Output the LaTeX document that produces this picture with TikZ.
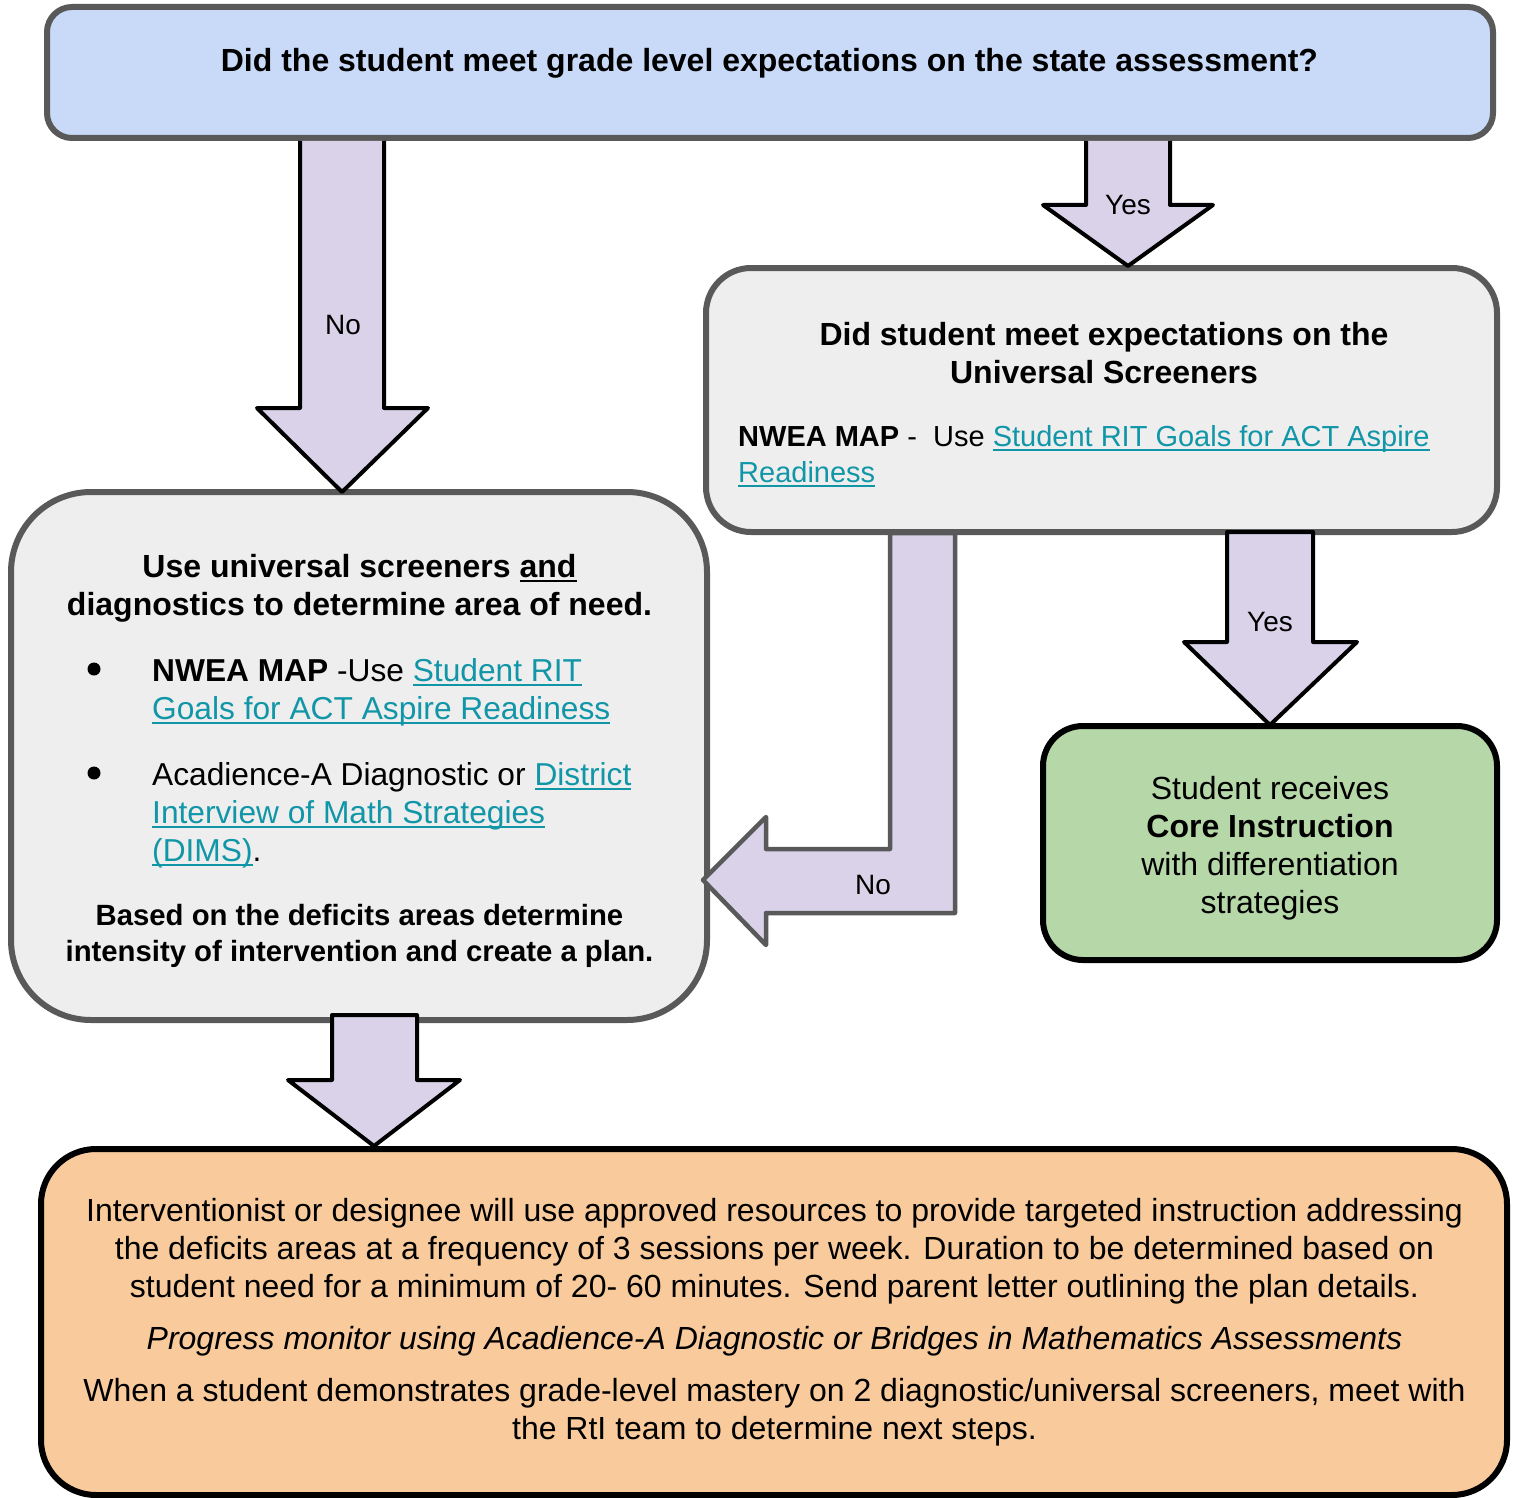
\documentclass[tikz,border=0pt]{standalone}
\usepackage{fontspec}
\setmainfont{Liberation Sans}
\definecolor{qblue}{HTML}{C9DAF8}
\definecolor{apurple}{HTML}{D9D2E9}
\definecolor{bgray}{HTML}{EEEEEE}
\definecolor{bgreen}{HTML}{B6D7A8}
\definecolor{borange}{HTML}{F9CB9C}
\definecolor{edgegray}{HTML}{595959}
\definecolor{link}{RGB}{17,150,168}
\newsavebox{\myulbox}
\newcommand{\myul}[1]{\sbox{\myulbox}{#1}\rlap{\rule[-4.5pt]{\wd\myulbox}{2pt}}\usebox{\myulbox}}
\newcommand{\lk}[1]{{\color{link}\myul{#1}}}
\newcommand{\topst}{\rule{0pt}{30pt}}
\newcommand{\topsm}{\rule{0pt}{28pt}}
\begin{document}
\begin{tikzpicture}[x=1pt,y=-1pt,
  box/.style={draw, rectangle, outer sep=0pt, inner sep=0pt, line width=6pt},
  txt/.style={inner sep=0pt, font=\fontsize{32pt}{38pt}\selectfont},
  smtxt/.style={inner sep=0pt, font=\fontsize{29.3pt}{36pt}\selectfont},
  lbl/.style={inner sep=0pt, font=\fontsize{28pt}{34pt}\selectfont},
  blk/.style={fill=apurple, draw=black, line width=4pt, line join=round},
  blkg/.style={fill=apurple, draw=edgegray, line width=4.5pt, line join=round},
  bul/.style={circle, fill=black, inner sep=0pt, minimum size=13pt}]
\useasboundingbox (0,0) rectangle (1520,1498);

% boxes
\node[box, draw=edgegray, fill=qblue, rounded corners=25pt,
      minimum width=1446pt, minimum height=131pt] (q1) at (770,72.5) {};
\node[box, draw=edgegray, fill=bgray, rounded corners=45pt,
      minimum width=791pt, minimum height=264pt] (q2) at (1101.5,400) {};
\node[box, draw=edgegray, fill=bgray, rounded corners=80pt,
      minimum width=696pt, minimum height=528pt] (plan) at (359,756) {};
\node[box, draw=black, fill=bgreen, rounded corners=40pt,
      minimum width=454pt, minimum height=234pt] (core) at (1270,843) {};
\node[box, draw=black, fill=borange, rounded corners=55pt,
      minimum width=1466pt, minimum height=346pt] (intv) at (774,1322) {};

% block arrows
\fill[apurple] (300,141) -- (300,408) -- (257,408) -- (342,492) -- (428,408) -- (384,408) -- (384,141) -- cycle;
\draw[line width=4pt, line join=round] (300,141) -- (300,408) -- (257,408) -- (342,492) -- (428,408) -- (384,408) -- (384,141);
\fill[apurple] (1086,141) -- (1086,205) -- (1043,205) -- (1128,266) -- (1213,205) -- (1170,205) -- (1170,141) -- cycle;
\draw[line width=4pt, line join=round] (1086,141) -- (1086,205) -- (1043,205) -- (1128,266) -- (1213,205) -- (1170,205) -- (1170,141);
\draw[blk] (1227,532) -- (1313,532) -- (1313,642) -- (1357,642) -- (1270,725) -- (1184,642) -- (1227,642) -- cycle;
\draw[blk] (332,1015) -- (417,1015) -- (417,1080) -- (460,1080) -- (374,1146) -- (288,1080) -- (332,1080) -- cycle;
\draw[blkg] (890,533) -- (955,533) -- (955,913) -- (766,913) -- (766,945) -- (703,880) -- (766,817) -- (766,849) -- (890,849) -- cycle;

% labels
\node[lbl] (lno1) at (343,325) {No};
\node[lbl] (lyes1) at (1128,205) {Yes};
\node[lbl] (lyes2) at (1270,622) {Yes};
\node[lbl] (lno2) at (873,885) {No};

% texts
\node[txt, anchor=base] (t1) at (769.5,72) {\textbf{Did the student meet grade level expectations on the state assessment?}};

\node[txt, anchor=north, align=center] (t2) at (1104,315) {\topst\textbf{Did student meet expectations on the}\\ \textbf{Universal Screeners}};
\node[txt, anchor=north west, align=left, font=\fontsize{29pt}{36pt}\selectfont] (t3) at (738,416) {\topst\textbf{NWEA MAP} -\ \ Use \lk{Student RIT Goals for ACT Aspire}\\ \lk{Readiness}};

\node[txt, anchor=north, align=center] (t4) at (359.5,547) {\topst\textbf{Use universal screeners {\color{black}\myul{and}}}\\ \textbf{diagnostics to determine area of need.}};
\node[bul] (bu1) at (94,669) {};
\node[txt, anchor=north west, align=left, font=\fontsize{31.7pt}{38pt}\selectfont] (t5) at (152,651) {\topst\textbf{NWEA MAP} -Use \lk{Student RIT}\\ \lk{Goals for ACT Aspire Readiness}};
\node[bul] (bu2) at (94,773) {};
\node[txt, anchor=north west, align=left, font=\fontsize{31.7pt}{38pt}\selectfont] (t6) at (152,755) {\topst Acadience-A Diagnostic or \lk{District}\\ \lk{Interview of Math Strategies}\\ \lk{(DIMS)}.};
\node[smtxt, anchor=north, align=center] (t7) at (359.5,897) {\topsm\textbf{Based on the deficits areas determine}\\ \textbf{intensity of intervention and create a plan.}};

\node[txt, anchor=north, align=center] (t8) at (1270,769) {\topst Student receives\\ \textbf{Core Instruction}\\ with differentiation\\ strategies};

\node[txt, anchor=north, align=center] (t9) at (774.5,1191) {\topst Interventionist or designee will use approved resources to provide targeted instruction addressing\\ the deficits areas at a frequency of 3 sessions per week. Duration to be determined based on\\ student need for a minimum of 20- 60 minutes. Send parent letter outlining the plan details.};
\node[txt, anchor=base] (t10) at (774.5,1349) {\itshape Progress monitor using Acadience-A Diagnostic or Bridges in Mathematics Assessments};
\node[txt, anchor=north, align=center] (t11) at (774.5,1371) {\topst When a student demonstrates grade-level mastery on 2 diagnostic/universal screeners, meet with\\ the RtI team to determine next steps.};
\end{tikzpicture}
\end{document}
